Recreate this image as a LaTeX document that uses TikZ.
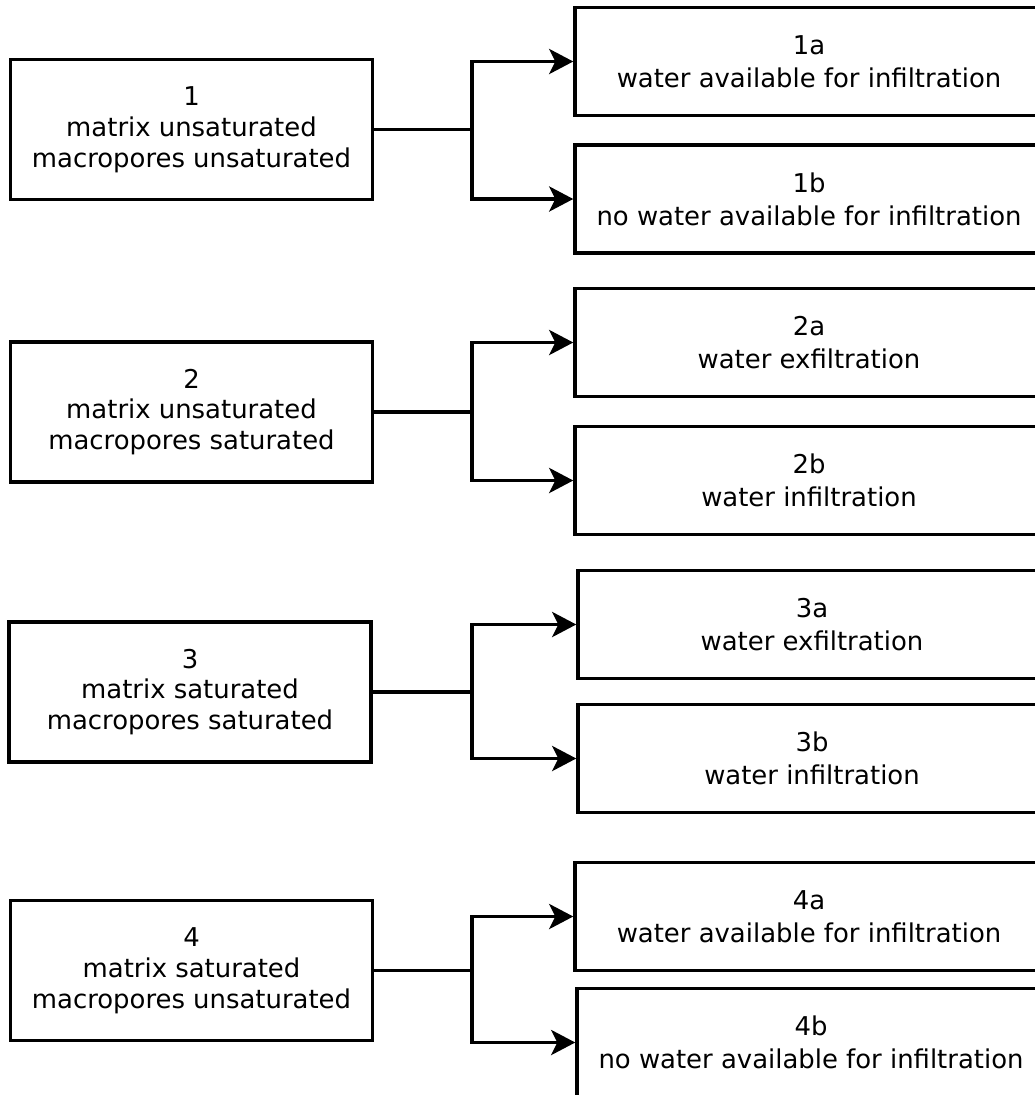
\documentclass[tikz,border=0pt]{standalone}
\usepackage{fontspec}
\setmainfont{DejaVu Sans}
\usetikzlibrary{arrows.meta}

\begin{document}
\begin{tikzpicture}[x=1bp,y=-1bp,line width=3.5bp,
  statebox/.style={draw,minimum width=362bp,minimum height=140bp,align=center,inner sep=0pt,font=\fontsize{26}{31}\selectfont},
  casebox/.style={draw,minimum width=468bp,minimum height=108bp,align=center,inner sep=0pt,font=\fontsize{26}{33}\selectfont},
  branch/.style={-{Stealth[length=24bp,width=25bp,inset=6bp]}}]

\useasboundingbox (0,0) rectangle (1035,1095);
\clip (0,0) rectangle (1035,1095);

% state 1
\node [statebox] (s1) at (191.5,129.5) {1\\matrix unsaturated\\macropores unsaturated};
\node [casebox] (c1a) at (809,61.5) {1a\\water available for infiltration};
\node [casebox] (c1b) at (809,199) {1b\\no water available for infiltration};
\coordinate (j1) at (472,129.5);
\draw (s1) -- (j1);
\draw [branch] (j1) |- (c1a);
\draw [branch] (j1) |- (c1b);

% state 2
\node [statebox] (s2) at (191.5,412) {2\\matrix unsaturated\\macropores saturated};
\node [casebox] (c2a) at (809,342.5) {2a\\water exfiltration};
\node [casebox] (c2b) at (809,480.5) {2b\\water infiltration};
\coordinate (j2) at (472,412);
\draw (s2) -- (j2);
\draw [branch] (j2) |- (c2a);
\draw [branch] (j2) |- (c2b);

% state 3
\node [statebox] (s3) at (190,692) {3\\matrix saturated\\macropores saturated};
\node [casebox] (c3a) at (812,624.5) {3a\\water exfiltration};
\node [casebox] (c3b) at (812,758.5) {3b\\water infiltration};
\coordinate (j3) at (472,692);
\draw (s3) -- (j3);
\draw [branch] (j3) |- (c3a);
\draw [branch] (j3) |- (c3b);

% state 4
\node [statebox] (s4) at (191.5,970.5) {4\\matrix saturated\\macropores unsaturated};
\node [casebox] (c4a) at (809,916.5) {4a\\water available for infiltration};
\node [casebox] (c4b) at (811,1042.5) {4b\\no water available for infiltration};
\coordinate (j4) at (472,970.5);
\draw (s4) -- (j4);
\draw [branch] (j4) |- (c4a);
\draw [branch] (j4) |- (c4b);

\end{tikzpicture}
\end{document}
